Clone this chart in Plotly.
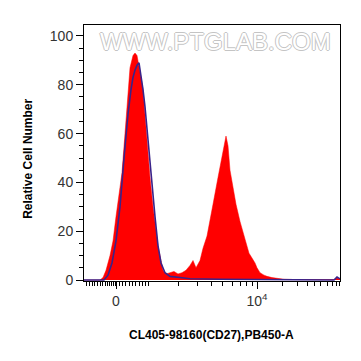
import plotly.graph_objects as go

# Display channel (0-256 across the plot) and relative cell counts
red_x = [0, 16, 19, 22, 26, 29, 32, 35, 38, 41, 43, 46, 49, 51, 53, 55, 57, 59, 61, 64, 66,
         69, 72, 74, 77, 79, 82, 86, 90, 94, 98, 102, 106, 109, 112, 116, 119, 123, 126, 129,
         134, 137, 139, 141, 142, 144, 146, 149, 152, 156, 160, 163, 165, 168, 171, 173, 176,
         180, 183, 188, 194, 200, 210, 230, 250, 253, 256]
red_y = [0, 0, 1, 4, 10, 16, 26, 35, 44, 60, 71, 87, 92, 93, 92, 88, 83, 78, 68, 50, 42,
         30, 20, 14, 8, 4, 2.5, 3, 3.5, 2.5, 3, 4, 6, 8, 5, 8, 13, 18, 24, 31,
         42, 48, 52, 57, 59, 55, 45, 38, 31, 24, 18, 14, 11, 9, 7, 5, 3,
         2, 1.5, 1, 0.6, 0.3, 0.2, 0.1, 0.2, 0.8, 0.5]

blue_x = [0, 20, 24, 28, 32, 36, 40, 44, 47, 49, 51, 53, 55, 57, 59, 61, 64, 66, 68, 71,
          74, 77, 81, 86, 96, 106, 136, 176, 200, 250, 253, 256]
blue_y = [0, 0, 2, 7, 16, 30, 50, 68, 78, 83, 86, 88, 89, 84, 78, 71, 57, 48, 40, 26,
          14, 7, 3, 1.5, 1, 0.5, 0.3, 0.2, 0, 0, 1.2, 0.5]

y_ticks = [0, 20, 40, 60, 80, 100]
x_major = [32, 173]
x_major_text = ["0", "10<sup>4</sup>"]
x_minor = [2, 5, 8, 10, 13, 16, 18, 21, 23, 25, 27, 29, 31, 35, 38, 41, 45, 48, 51, 55, 58, 61,
           64, 94, 113, 127, 138, 148, 156, 162, 168, 198, 213, 223, 230, 236, 243, 248, 252, 255]

fig = go.Figure()
fig.add_trace(go.Scatter(x=red_x, y=red_y, mode="lines", fill="tozeroy",
                         fillcolor="#ff0000", line=dict(color="#ff0000", width=0.5),
                         hoverinfo="skip", showlegend=False))
fig.add_trace(go.Scatter(x=blue_x, y=blue_y, mode="lines",
                         line=dict(color="#3a238a", width=1.6),
                         hoverinfo="skip", showlegend=False))

tick_font = dict(family="Arial, Liberation Sans, sans-serif", size=14, color="#333333")

fig.update_layout(
    width=353, height=353,
    margin=dict(l=76, r=21, t=17, b=80),
    paper_bgcolor="white", plot_bgcolor="white",
    xaxis=dict(range=[0, 256], showgrid=False, zeroline=False, showline=True, mirror=True,
               linecolor="black", linewidth=1, ticks="outside", ticklen=7, tickcolor="black",
               tickmode="array", tickvals=x_major, ticktext=x_major_text, tickfont=tick_font,
               minor=dict(tickmode="array", tickvals=x_minor, ticks="outside", ticklen=4,
                          tickcolor="black")),
    yaxis=dict(range=[-0.4, 104.5], showgrid=False, zeroline=False, showline=True, mirror=True,
               linecolor="black", linewidth=1, ticks="outside", ticklen=7, tickcolor="black",
               tickmode="array", tickvals=y_ticks, tickfont=tick_font,
               minor=dict(dtick=5, ticks="outside", ticklen=4, tickcolor="black")),
    annotations=[
        dict(text="<b>Relative Cell Number</b>", xref="paper", yref="paper",
             x=-0.219, y=0.477, xanchor="center", yanchor="middle", textangle=-90,
             showarrow=False,
             font=dict(family="Arial, Liberation Sans, sans-serif", size=12, color="black")),
        dict(text="<b>CL405-98160(CD27),PB450-A</b>", xref="paper", yref="paper",
             x=0.497, y=-0.211, xanchor="center", yanchor="middle", showarrow=False,
             font=dict(family="Arial, Liberation Sans, sans-serif", size=12, color="black")),
        dict(text="WWW.PTGLAB.COM", xref="paper", yref="paper", x=0.512, y=0.937,
             xanchor="center", yanchor="middle", showarrow=False,
             font=dict(family="Arial, Liberation Sans, sans-serif", size=24, color="#ffffff",
                       shadow="-1px 0 #c4c4c4, 1px 0 #c4c4c4, 0 -1px #c4c4c4, 0 1px #c4c4c4")),
    ],
)

fig.write_html("out.html")
